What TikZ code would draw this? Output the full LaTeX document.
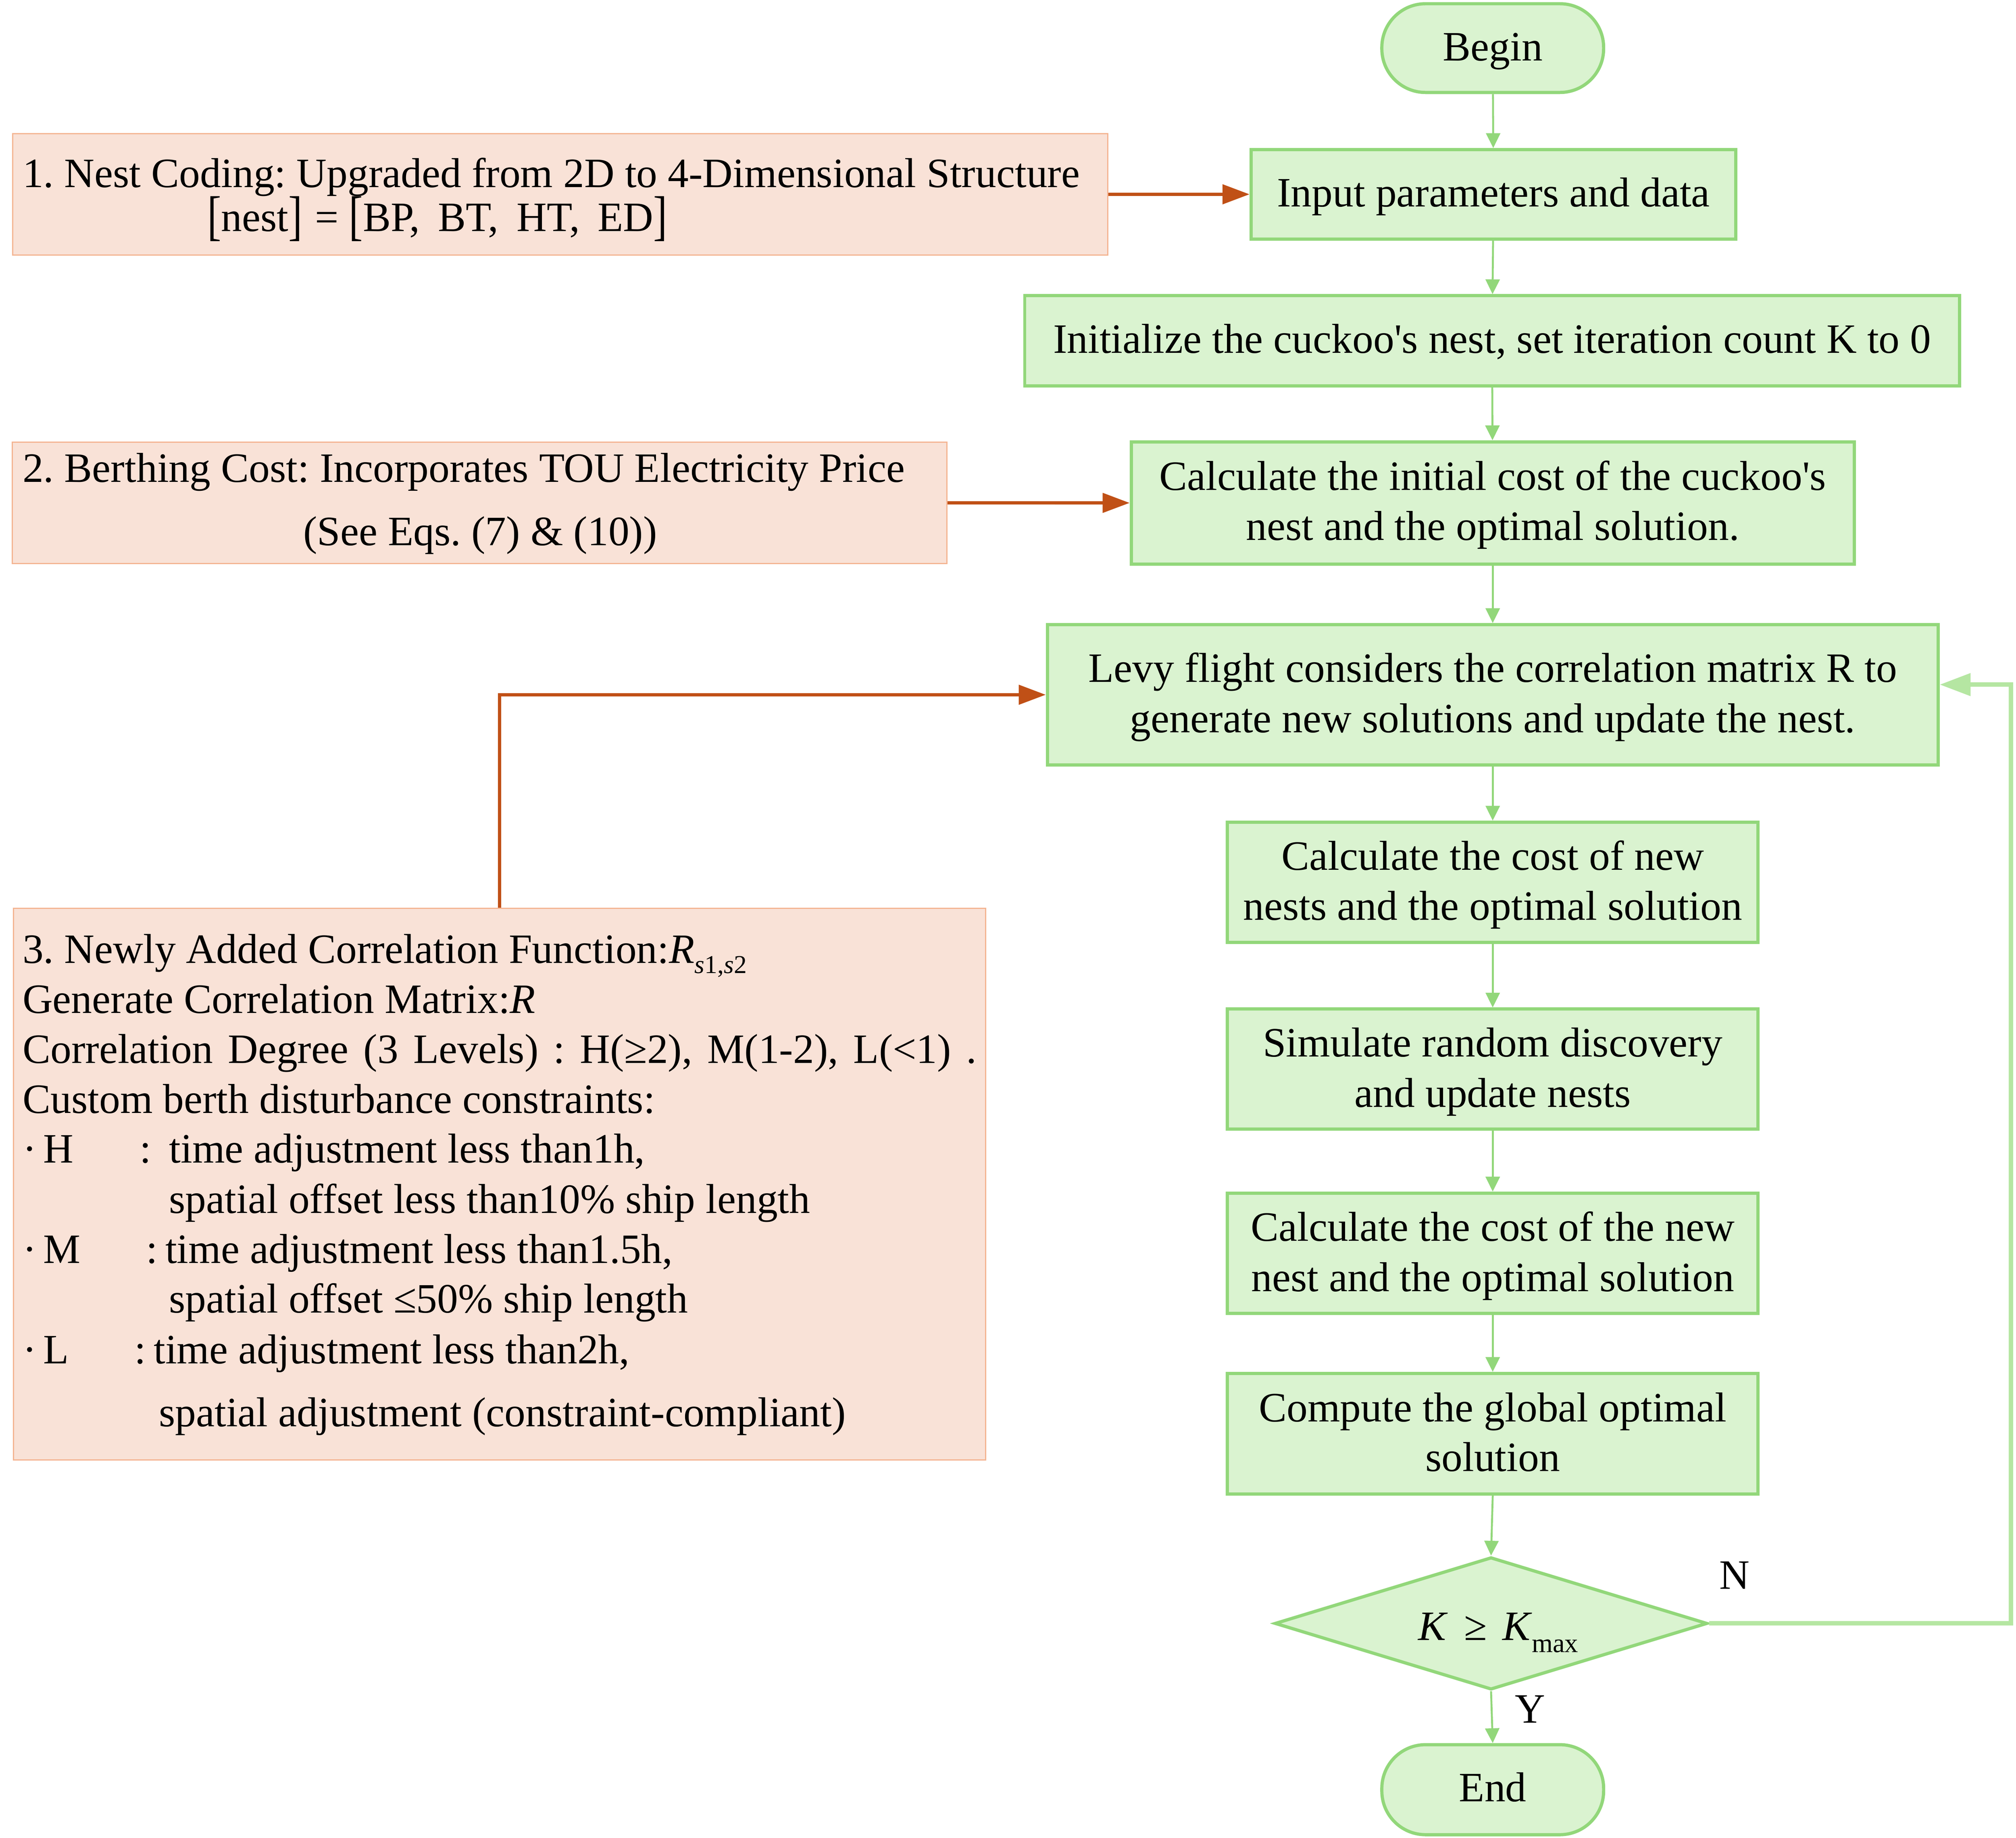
\documentclass[tikz,border=0pt]{standalone}
\usepackage{fontspec}
\setmainfont{Liberation Serif}
\newfontfamily\plainf{Liberation Serif}
\usepackage{graphicx}
\usetikzlibrary{arrows.meta,shapes.geometric}
\definecolor{gfill}{RGB}{218,243,208}
\definecolor{gline}{RGB}{146,215,122}
\definecolor{gfb}{RGB}{181,230,162}
\definecolor{ofill}{RGB}{249,226,215}
\definecolor{oline}{RGB}{244,180,145}
\definecolor{oarrow}{RGB}{192,80,22}
\newcommand\bigbr[1]{\raisebox{-2pt}{\scalebox{1}[1.3]{#1}}}
\newcommand\apos{{\plainf'}}
\begin{document}
\frenchspacing
\begin{tikzpicture}[x=1pt,y=-1pt,
  font=\fontsize{32.5}{39}\selectfont\frenchspacing,
  gbox/.style={draw=gline, fill=gfill, line width=2.5pt, inner sep=0pt, rectangle},
  term/.style={gbox, rounded corners=34pt},
  obox/.style={draw=oline, fill=ofill, line width=1pt, inner sep=0pt, rectangle},
  txt/.style={inner sep=0pt, anchor=base},
  txtw/.style={inner sep=0pt, anchor=base west},
  garrow/.style={draw=gline, line width=1.5pt, -{Triangle[length=11.5pt,width=11pt]}},
  oarr/.style={draw=oarrow, line width=2.5pt, -{Triangle[length=21pt,width=15pt]}},
  fbarr/.style={draw=gfb, line width=3.5pt, -{Triangle[length=24pt,width=17pt]}}]
\useasboundingbox (0,0) rectangle (1568,1429.2);

% ---------- flowchart (right column) ----------
\node[term, minimum width=172.5pt, minimum height=69pt] (begin) at (1161,37.4) {};
\node[txt] (beginT) at (1161,47.3) {Begin};

\node[gbox, minimum width=377pt, minimum height=69.5pt] (input) at (1161.6,151.1) {};
\node[txt] (inputT) at (1161.6,160.8) {Input parameters and data};

\node[gbox, minimum width=727pt, minimum height=70pt] (init) at (1160.5,265) {};
\node[txt] (initT) at (1160.5,274.7) {Initialize the cuckoo\apos s nest, set iteration count K to 0};

\node[gbox, minimum width=562.3pt, minimum height=95pt] (calc0) at (1161,391.1) {};
\node[txt] (calc0a) at (1161,381.2) {Calculate the initial cost of the cuckoo\apos s};
\node[txt] (calc0b) at (1161,420) {nest and the optimal solution.};

\node[gbox, minimum width=692.8pt, minimum height=109pt] (levy) at (1161,540.3) {};
\node[txt] (levya) at (1161,530.4) {Levy flight considers the correlation matrix R to};
\node[txt] (levyb) at (1161,569.6) {generate new solutions and update the nest.};

\node[gbox, minimum width=412.8pt, minimum height=93.6pt] (calcnew) at (1161,686.2) {};
\node[txt] (calcnewa) at (1161,676.6) {Calculate the cost of new};
\node[txt] (calcnewb) at (1161,715.6) {nests and the optimal solution};

\node[gbox, minimum width=412.8pt, minimum height=93.3pt] (sim) at (1161,831.4) {};
\node[txt] (sima) at (1161,821.9) {Simulate random discovery};
\node[txt] (simb) at (1161,860.9) {and update nests};

\node[gbox, minimum width=412.8pt, minimum height=93.4pt] (calcnest) at (1161,974.6) {};
\node[txt] (calcnesta) at (1161,965.2) {Calculate the cost of the new};
\node[txt] (calcnestb) at (1161,1004.2) {nest and the optimal solution};

\node[gbox, minimum width=412.8pt, minimum height=93.8pt] (global) at (1161,1115) {};
\node[txt] (globala) at (1161,1105.6) {Compute the global optimal};
\node[txt] (globalb) at (1161,1144.1) {solution};

\node[gbox, shape=diamond, minimum width=336.5pt, minimum height=103pt] (diam) at (1159.7,1262.5) {};
\node[txtw] (diamT) at (1103,1275.4) {\itshape K\upshape\hspace{14pt}≥\hspace{12pt}\itshape K\upshape\hspace{1pt}\raisebox{-9.6pt}{\fontsize{21}{21}\selectfont max}};

\node[term, minimum width=172.5pt, minimum height=70pt] (end) at (1161,1391.8) {};
\node[txt] (endT) at (1161,1401) {End};

\node[txtw] (lblN) at (1337,1235.8) {N};
\node[txtw] (lblY) at (1178,1339.8) {Y};

\draw[garrow] (begin) -- (input);
\draw[garrow] (input) -- (init);
\draw[garrow] (init) -- (calc0);
\draw[garrow] (calc0) -- (levy);
\draw[garrow] (levy) -- (calcnew);
\draw[garrow] (calcnew) -- (sim);
\draw[garrow] (sim) -- (calcnest);
\draw[garrow] (calcnest) -- (global);
\draw[garrow] (global.south) -- (diam.north);
\draw[garrow] (diam.south) -- (end.north);

\coordinate (fb) at (1564,532.4);
\draw[fbarr] (diam.east) -| (fb) -- (fb -| levy.east);

% ---------- annotation boxes (left) ----------
\node[obox, minimum width=851.6pt, minimum height=94.5pt] (box1) at (435.7,151.15) {};
\node[txtw] (b1a) at (17.4,145.7) {1. Nest Coding: Upgraded from 2D to 4-Dimensional Structure};
\node[txtw] (b1b) at (161,180) {\bigbr{[}nest\bigbr{]}\hspace{10pt}=\hspace{8pt}\bigbr{[}BP,\hspace{14pt}BT,\hspace{14pt}HT,\hspace{14pt}ED\bigbr{]}};

\node[obox, minimum width=727pt, minimum height=94.5pt] (box2) at (373,391) {};
\node[txtw] (b2a) at (17.4,374.9) {2. Berthing Cost: Incorporates TOU Electricity Price};
\node[txt] (b2b) at (373.5,424.1) {(See Eqs. (7) \& (10))};

\node[obox, minimum width=756pt, minimum height=429pt] (box3) at (388.5,920.8) {};
\node[txtw] (b3l1) at (17.4,748.9) {3. Newly Added Correlation Function:\itshape R\upshape\raisebox{-8pt}{\fontsize{20}{20}\selectfont\itshape s\upshape 1,\itshape s\upshape 2}};
\node[txtw] (b3l2) at (17.4,788) {Generate Correlation Matrix:\itshape R};
\node[txtw] (b3l3) at (17.4,826.8) {\makebox[742pt][s]{Correlation Degree (3 Levels) : H(≥2), M(1-2), L(<1) .}};
\node[txtw] (b3l4) at (17.4,865.6) {Custom berth disturbance constraints:};
\node[txtw] (b3l5) at (17.4,904.4) {\rlap{·}\rlap{\hspace*{16pt}H}\rlap{\hspace*{91pt}:}\hspace*{114pt}time adjustment less than1h,};
\node[txtw] (b3l6) at (17.4,943.4) {\hspace*{114pt}spatial offset less than10\% ship length};
\node[txtw] (b3l7) at (17.4,982.3) {\rlap{·}\rlap{\hspace*{16pt}M}\rlap{\hspace*{96pt}:}\hspace*{111pt}time adjustment less than1.5h,};
\node[txtw] (b3l8) at (17.4,1021) {\hspace*{114pt}spatial offset ≤50\% ship length};
\node[txtw] (b3l9) at (17.4,1060.4) {\rlap{·}\rlap{\hspace*{16pt}L}\rlap{\hspace*{87pt}:}\hspace*{102pt}time adjustment less than2h,};
\node[txtw] (b3l10) at (17.4,1109.5) {\hspace*{106pt}spatial adjustment (constraint-compliant)};

\draw[oarr] (box1.east) -- (input.west);
\draw[oarr] (box2.east) -- (calc0.west);
\draw[oarr] (box3.north) |- (levy.west);
\end{tikzpicture}
\end{document}
